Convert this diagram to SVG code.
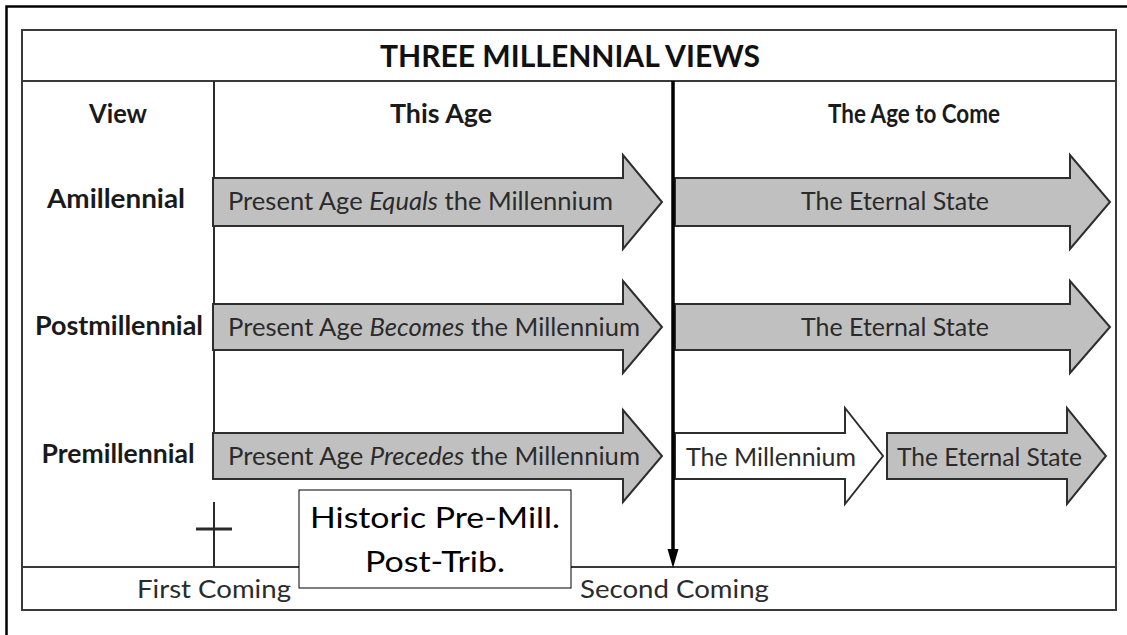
<svg xmlns="http://www.w3.org/2000/svg" width="1127" height="635" viewBox="0 0 1127 635">
  <style>
    .frame{fill:none;stroke:#000;stroke-width:2.5}
    .tbl{fill:none;stroke:#3a3a3a;stroke-width:2}
    .div{stroke:#2a2a2a;stroke-width:2;fill:none}
    .arr{fill:#c0c0c0;stroke:#2e2e2e;stroke-width:2;stroke-linejoin:miter}
    .arrw{fill:#fff;stroke:#2e2e2e;stroke-width:2;stroke-linejoin:miter}
    .title{font-family:Lato,"Liberation Sans",sans-serif;font-weight:bold;font-size:31px;fill:#111}
    .hdr{font-family:Lato,"Liberation Sans",sans-serif;font-weight:bold;font-size:26px;fill:#1a1a1a}
    .txt{font-family:Lato,"Liberation Sans",sans-serif;font-size:25px;fill:#2b2b2b}
    .box{font-family:Lato,"Liberation Sans",sans-serif;font-size:29px;fill:#000}
    .it{font-style:italic}
  </style>
  <rect class="frame" x="6.5" y="6.5" width="1130" height="640"/>
  <g id="table">
    <rect class="tbl" x="22" y="30" width="1094" height="580"/>
    <line class="tbl" x1="22" y1="81" x2="1116" y2="81"/>
    <line class="tbl" x1="22" y1="567" x2="1116" y2="567"/>
    <line class="div" x1="214" y1="81" x2="214" y2="433"/>
    <text class="title" x="570" y="67" text-anchor="middle" textLength="380" lengthAdjust="spacingAndGlyphs">THREE MILLENNIAL VIEWS</text>
    <text class="hdr" x="118" y="123" text-anchor="middle" textLength="58" lengthAdjust="spacingAndGlyphs">View</text>
    <text class="hdr" x="441" y="123" text-anchor="middle" textLength="102" lengthAdjust="spacingAndGlyphs">This Age</text>
    <text class="hdr" x="914" y="123" text-anchor="middle" textLength="172" lengthAdjust="spacingAndGlyphs">The Age to Come</text>
  </g>
  <g id="row-amillennial">
    <text class="hdr" x="116" y="208" text-anchor="middle" textLength="138" lengthAdjust="spacingAndGlyphs">Amillennial</text>
    <polygon class="arr" points="213,178 623,178 623,155 662,202 623,249 623,226 213,226"/>
    <text class="txt" x="228" y="210" textLength="385" lengthAdjust="spacingAndGlyphs">Present Age <tspan class="it">Equals</tspan> the Millennium</text>
    <polygon class="arr" points="675,178 1070,178 1070,155 1110,202 1070,249 1070,226 675,226"/>
    <text class="txt" x="895" y="210" text-anchor="middle" textLength="188" lengthAdjust="spacingAndGlyphs">The Eternal State</text>
  </g>
  <g id="row-postmillennial">
    <text class="hdr" x="119" y="335" text-anchor="middle" textLength="168" lengthAdjust="spacingAndGlyphs">Postmillennial</text>
    <polygon class="arr" points="213,304 623,304 623,281 662,327 623,373 623,350 213,350"/>
    <text class="txt" x="228" y="336" textLength="412" lengthAdjust="spacingAndGlyphs">Present Age <tspan class="it">Becomes</tspan> the Millennium</text>
    <polygon class="arr" points="675,304 1070,304 1070,281 1110,327 1070,373 1070,350 675,350"/>
    <text class="txt" x="895" y="336" text-anchor="middle" textLength="188" lengthAdjust="spacingAndGlyphs">The Eternal State</text>
  </g>
  <g id="row-premillennial">
    <text class="hdr" x="118" y="463" text-anchor="middle" textLength="153" lengthAdjust="spacingAndGlyphs">Premillennial</text>
    <polygon class="arr" points="213,433 623,433 623,410 662,456 623,502 623,479 213,479"/>
    <text class="txt" x="228" y="465" textLength="412" lengthAdjust="spacingAndGlyphs">Present Age <tspan class="it">Precedes</tspan> the Millennium</text>
    <polygon class="arrw" points="675,433 845,433 845,408 883,456 845,504 845,479 675,479"/>
    <text class="txt" x="686" y="466" textLength="170" lengthAdjust="spacingAndGlyphs">The Millennium</text>
    <polygon class="arr" points="887,433 1067,433 1067,408 1106,456 1067,504 1067,479 887,479"/>
    <text class="txt" x="897" y="466" textLength="185" lengthAdjust="spacingAndGlyphs">The Eternal State</text>
  </g>
  <g id="first-coming">
    <line class="div" x1="214" y1="502" x2="214" y2="567"/>
    <line x1="196" y1="529" x2="232" y2="529" stroke="#2a2a2a" stroke-width="3"/>
    <text class="txt" x="137" y="598" textLength="154" lengthAdjust="spacingAndGlyphs">First Coming</text>
  </g>
  <g id="connectors">
    <line x1="673" y1="81" x2="673" y2="552" stroke="#000" stroke-width="3.5"/>
    <polygon points="667.5,549 678.5,549 673,568" fill="#000"/>
  </g>
  <g id="second-coming">
    <text class="txt" x="580" y="598" textLength="189" lengthAdjust="spacingAndGlyphs">Second Coming</text>
  </g>
  <g id="historic-box">
    <rect x="299" y="490" width="272" height="98" fill="#fff" stroke="#000" stroke-width="1"/>
    <text class="box" x="435" y="528" text-anchor="middle" textLength="250" lengthAdjust="spacingAndGlyphs">Historic Pre-Mill.</text>
    <text class="box" x="435" y="572" text-anchor="middle" textLength="140" lengthAdjust="spacingAndGlyphs">Post-Trib.</text>
  </g>
</svg>
